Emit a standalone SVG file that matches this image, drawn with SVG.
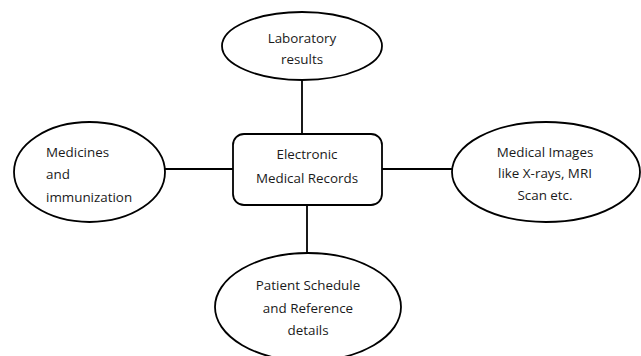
<svg xmlns="http://www.w3.org/2000/svg" width="641" height="356" viewBox="0 0 641 356">
<style>
.n{fill:#fff;stroke:#000;stroke-width:1.8}
.c{stroke:#000;stroke-width:1.8;fill:none}
text{font-family:"Open Sans","Liberation Sans",sans-serif;font-size:13.4px;fill:#1a1a1a}
.m{text-anchor:middle}
</style>
<rect width="641" height="356" fill="#fff"/>
<g id="connectors">
<line class="c" x1="302" y1="80" x2="302" y2="134"/>
<line class="c" x1="165" y1="169" x2="233" y2="169"/>
<line class="c" x1="382" y1="169" x2="452" y2="169"/>
<line class="c" x1="307" y1="205" x2="307" y2="253"/>
</g>
<g id="lab">
<ellipse class="n" cx="302" cy="46" rx="80" ry="34"/>
<text class="m" x="302" y="43">Laboratory</text>
<text class="m" x="302" y="64">results</text>
</g>
<g id="medicines">
<ellipse class="n" cx="89.5" cy="172" rx="75.5" ry="50"/>
<text x="46" y="157">Medicines</text>
<text x="46" y="179">and</text>
<text x="46" y="202">immunization</text>
</g>
<g id="emr">
<rect class="n" x="233" y="134" width="149" height="71" rx="11"/>
<text class="m" x="307" y="159">Electronic</text>
<text class="m" x="307" y="183">Medical Records</text>
</g>
<g id="images">
<ellipse class="n" cx="546" cy="172" rx="94" ry="50"/>
<text class="m" x="545" y="157">Medical Images</text>
<text class="m" x="545" y="178">like X-rays, MRI</text>
<text class="m" x="545" y="200">Scan etc.</text>
</g>
<g id="schedule">
<ellipse class="n" cx="308" cy="307" rx="93" ry="54"/>
<text class="m" x="308" y="290">Patient Schedule</text>
<text class="m" x="308" y="313">and Reference</text>
<text class="m" x="308" y="335">details</text>
</g>
</svg>
